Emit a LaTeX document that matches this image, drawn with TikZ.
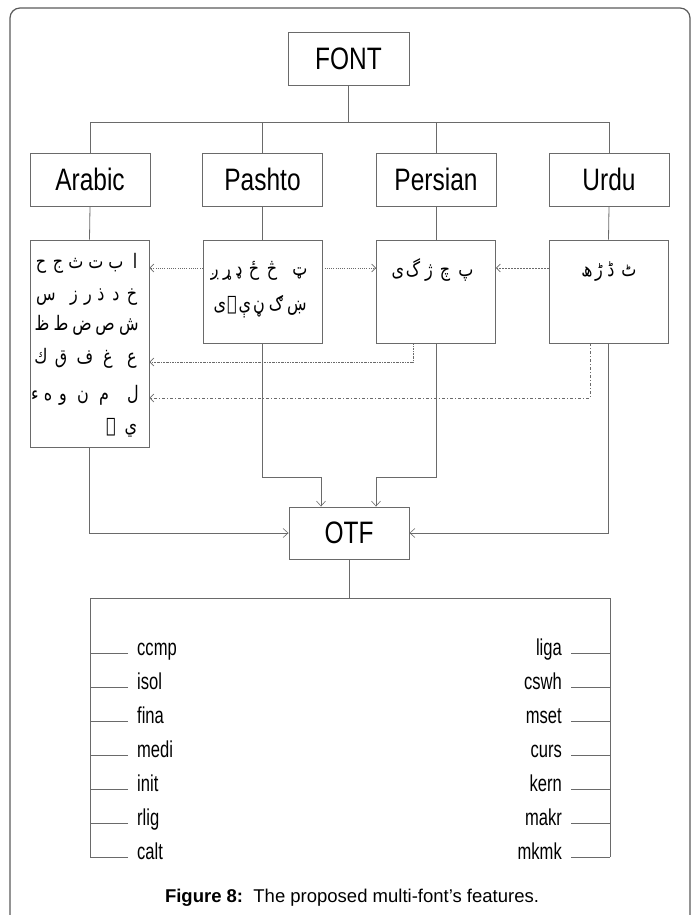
\documentclass[tikz,border=0pt]{standalone}
\usepackage{fontspec}
\setmainfont{Liberation Sans}
\newfontfamily\narrowsans[FakeStretch=0.79]{Liberation Sans}
\newfontfamily\featsans[FakeStretch=0.72]{Liberation Sans}
\newfontfamily\arabicfont[Script=Arabic,FakeStretch=0.8]{DejaVu Sans}
\TeXXeTstate=1
\usetikzlibrary{arrows.meta,calc}

\definecolor{linegray}{HTML}{6A6A6A}
\definecolor{framegray}{HTML}{5A5A5A}

\tikzset{
  box/.style={draw=linegray, line width=0.9pt, minimum width=120pt, inner sep=0pt,
              font=\narrowsans\fontsize{31}{34}\selectfont},
  glyphbox/.style={draw=linegray, line width=0.9pt, minimum width=119pt, inner sep=0pt},
  wire/.style={draw=linegray, line width=0.8pt},
  wirearr/.style={wire, -{Straight Barb[length=5pt,width=9pt,line width=0.6pt]}},
  tip/.style={-{Straight Barb[length=4pt,width=8pt,line width=0.6pt]}},
  dotlink/.style={draw=linegray, line width=0.8pt, dash pattern=on 0.8pt off 1.4pt, tip},
  finedash/.style={draw=linegray, line width=0.8pt, dash pattern=on 2pt off 1pt, tip},
  dashdotlink/.style={draw=linegray, line width=0.8pt, dash pattern=on 2pt off 1pt on 0.6pt off 1pt, tip},
  longdashdot/.style={draw=linegray, line width=0.8pt, dash pattern=on 3pt off 2pt on 1pt off 2pt, tip},
  ar/.style={inner sep=0pt, anchor=base, font=\arabicfont\fontsize{20}{24}\selectfont},
  feat/.style={inner sep=0pt, font=\featsans\fontsize{23}{26}\selectfont},
  frame/.style={draw=framegray, line width=1.2pt, rounded corners=10pt},
}

\begin{document}
\begin{tikzpicture}[x=1pt, y=-1pt]
\useasboundingbox (0,0) rectangle (693,915);

% outer frame, open at the bottom
\draw[frame] (10,940) -- (10,8) -- (690,8) -- (690,940);

% top of the tree
\node[box, minimum width=121pt, minimum height=53pt] (font) at (348.5,58.5) {FONT};

\node[box, minimum height=53pt] (lArabic)  at (90,179.5)  {Arabic};
\node[box, minimum height=53pt] (lPashto)  at (262.5,179.5) {Pashto};
\node[box, minimum height=53pt] (lPersian) at (436,179.5) {Persian};
\node[box, minimum height=53pt] (lUrdu)    at (609,179.5) {Urdu};

\coordinate (busTop) at (348.5,122);
\draw[wire] (font.south) -- (busTop);
\draw[wire] (lArabic.north)  |- (busTop);
\draw[wire] (lPashto.north)  |- (busTop);
\draw[wire] (lPersian.north) |- (busTop);
\draw[wire] (lUrdu.north)    |- (busTop);

% letter sets
\node[glyphbox, minimum height=207pt] (gArabic)  at (89.5,343.5) {};
\node[glyphbox, minimum height=103pt] (gPashto)  at (262.5,291.5) {};
\node[glyphbox, minimum height=103pt] (gPersian) at (436,291.5) {};
\node[glyphbox, minimum height=103pt] (gUrdu)    at (608.5,291.5) {};

\draw[wire] (lArabic.south)  -- (gArabic.north);
\draw[wire] (lPashto.south)  -- (gPashto.north);
\draw[wire] (lPersian.south) -- (gPersian.north);
\draw[wire] (lUrdu.south)    -- (gUrdu.north);

% Arabic alphabet, one isolated letter per cell, right to left
\foreach \ch/\x [count=\i] in {ا/135,ب/116,ت/96,ث/76,ج/58,ح/41}
  \node[ar] (ara\i) at (\x,268) {\ch};
\foreach \ch/\x [count=\i] in {خ/132,د/116,ذ/101,ر/88,ز/74,س/46}
  \node[ar] (arb\i) at (\x,300) {\ch};
\foreach \ch/\x [count=\i] in {ش/129,ص/105,ض/82,ط/61,ظ/42}
  \node[ar] (arc\i) at (\x,330) {\ch};
\foreach \ch/\x [count=\i] in {ع/132,غ/108,ف/85,ق/61,ك/41}
  \node[ar] (ard\i) at (\x,363) {\ch};
\foreach \ch/\x [count=\i] in {ل/133,م/104,ن/83,و/63,ه/48,ء/35}
  \node[ar] (are\i) at (\x,400) {\ch};
\foreach \ch/\x [count=\i] in {ي/131,ے/111}
  \node[ar] (arf\i) at (\x,432) {\ch};

% Pashto letters
\foreach \ch/\x [count=\i] in {ټ/300,څ/272,ځ/254,ډ/239,ړ/227,ږ/215}
  \node[ar] (psa\i) at (\x,275) {\ch};
\foreach \ch/\x [count=\i] in {ښ/297,ګ/276,ڼ/259,ې/245,ۍ/232,ی/220}
  \node[ar] (psb\i) at (\x,310) {\ch};

% Persian letters
\foreach \ch/\x [count=\i] in {پ/466,چ/445,ژ/429,گ/413,ی/398}
  \node[ar] (fa\i) at (\x,276) {\ch};

% Urdu letters
\foreach \ch/\x [count=\i] in {ٹ/629,ڈ/611,ڑ/599,ھ/587}
  \node[ar] (ur\i) at (\x,276) {\ch};

% borrowed letters
\coordinate (pw) at (200,268);
\draw[dotlink] (pw -| gPashto.west) -- (pw -| gArabic.east);
\draw[dotlink] (pw -| gPashto.east) -- (pw -| gPersian.west);
\draw[finedash] (pw -| gUrdu.west) -- (pw -| gPersian.east);
\coordinate (faOut) at (413,362);
\draw[dashdotlink] (faOut |- gPersian.south) -- (faOut) -- (faOut -| gArabic.east);
\coordinate (urOut) at (590,398);
\draw[longdashdot] (urOut |- gUrdu.south) -- (urOut) -- (urOut -| gArabic.east);

% OpenType font
\node[box, minimum height=52pt] (otf) at (349,533) {OTF};

\draw[wirearr] (gArabic.south) |- (otf.west);
\draw[wirearr] (gUrdu.south) |- (otf.east);
\draw[wirearr] (gPashto.south) -- ++(0,134) -| ([xshift=-28pt]otf.north);
\draw[wirearr] (gPersian.south) -- ++(0,134) -| ([xshift=27pt]otf.north);

% feature lists
\coordinate (busBot) at (349,598);
\coordinate (leftEnd) at (90,857);
\coordinate (rightEnd) at (610,857);
\draw[wire] (otf.south) -- (busBot);
\draw[wire] (busBot) -| (leftEnd);
\draw[wire] (busBot) -| (rightEnd);

\foreach \name [count=\i from 0] in {ccmp,isol,fina,medi,init,rlig,calt}{
  \node[feat, anchor=mid west] (l\name) at (137,653+34*\i) {\name};
  \draw[wire] ([xshift=-9pt]l\name.mid west) -- (l\name.mid west -| leftEnd);
}
\foreach \name [count=\i from 0] in {liga,cswh,mset,curs,kern,makr,mkmk}{
  \node[feat, anchor=mid east] (r\name) at (562,653+34*\i) {\name};
  \draw[wire] ([xshift=9pt]r\name.mid east) -- (r\name.mid east -| rightEnd);
}

% caption
\node[font=\fontsize{18.5}{22}\selectfont, inner sep=0pt] (caption) at (352,898)
  {\textbf{Figure 8:}\ \ The proposed multi-font’s features.};
\end{tikzpicture}
\end{document}
